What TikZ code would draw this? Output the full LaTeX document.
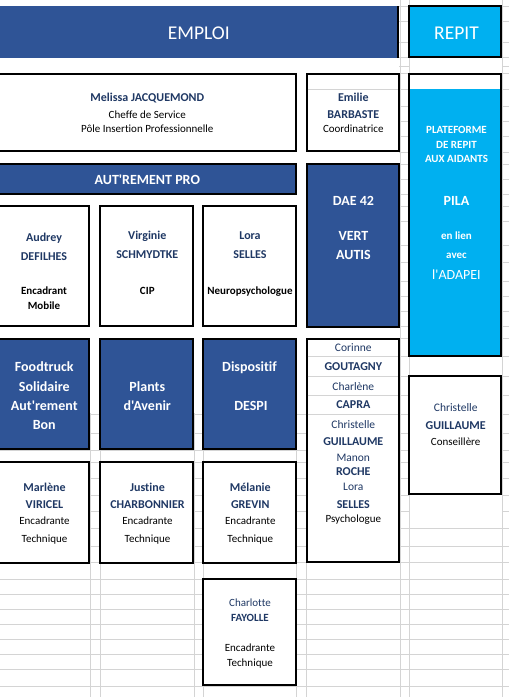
\documentclass[tikz,border=0pt]{standalone}
\usepackage{fontspec}
\setmainfont{Carlito}[Ligatures={TeXOff,NoCommon}]
\definecolor{dblue}{HTML}{2F5496}
\definecolor{cyanb}{HTML}{00B0F0}
\definecolor{namecol}{HTML}{1F3864}
\definecolor{gridc}{HTML}{D4D4D4}
\newcommand\cellbox[6]{\node[#6, anchor=north west, minimum width={(#4)*1pt-(#2)*1pt}, minimum height={(#5)*1pt-(#3)*1pt}] (#1) at (#2,#3) {};}
\newcommand\tline[5]{\node[#4] (#1) at (#2,#3) {#5};}
\begin{document}
\begin{tikzpicture}[x=1pt,y=-1pt,
  gridl/.style={draw=gridc, line width=1pt},
  frame/.style={draw=black, line width=2pt, inner sep=0pt, outer sep=0pt, fill=white},
  bluebox/.style={frame, fill=dblue},
  cyanbox/.style={frame, fill=cyanb},
  tb/.style={anchor=base, inner sep=0pt, outer sep=0pt},
  nm/.style={tb, font=\fontsize{12}{14}\selectfont\bfseries, text=namecol},
  nms/.style={tb, font=\fontsize{11}{13}\selectfont\bfseries, text=namecol},
  nmr/.style={tb, font=\fontsize{11.5}{14}\selectfont, text=namecol},
  nmrs/.style={tb, font=\fontsize{11}{13}\selectfont, text=namecol},
  sub/.style={tb, font=\fontsize{11}{13}\selectfont, text=black},
  subb/.style={tb, font=\fontsize{11}{13}\selectfont\bfseries, text=black},
  wb/.style={tb, font=\fontsize{14}{16}\selectfont\bfseries, text=white},
  wbs/.style={tb, font=\fontsize{11}{13}\selectfont\bfseries, text=white},
  wr/.style={tb, font=\fontsize{14}{16}\selectfont, text=white},
  hd/.style={tb, font=\fontsize{19.5}{22}\selectfont, text=white}]
\useasboundingbox (0,0) rectangle (509,697);
\clip (0,0) rectangle (509,697);
\fill[white] (0,0) rectangle (509,697);
% spreadsheet grid
\foreach \r in {6,21,42,57.7,66.7,73.7,89.3,106,121.7,136.7,152,164.3,179,194,206,221.7,245,262.7,281.7,296.7,311.7,326.7,338.3,356,376.7,395.7,414.3,433,450,462,478,495,511.7,528,546,562.7,579.3,594.3,609.3,624.3,639.3,654.3,669.3,686}
  {\draw[gridl] (399,\r) -- (409.3,\r); \draw[gridl] (502.7,\r) -- (509,\r);}
\foreach \c in {400,409.3,502.7} {\draw[gridl] (\c,0) -- (\c,697);}
\foreach \r in {414.3,433,450,462,478,495,511.7,528,546,562.7,579.3,594.3,609.3,624.3,639.3,654.3,669.3,686}
  {\draw[gridl] (0,\r) -- (400,\r);}
\foreach \c in {90.7,100.7,194,203,296.7,306} {\draw[gridl] (\c,413) -- (\c,697);}
\foreach \r in {528,546,562.7,579.3,594.3,609.3,624.3,639.3,654.3,669.3,686}
  {\draw[gridl] (409.3,\r) -- (502.7,\r);}
% header cells
\cellbox{emploi}{-3}{6}{398.3}{57.7}{fill=dblue, inner sep=0pt, outer sep=0pt}
\draw[line width=2pt] (emploi.north east) -- ([yshift=-0.6pt]emploi.south east);
\cellbox{repit}{409.3}{6}{501.3}{57.3}{cyanbox}
% second row
\cellbox{melissa}{-3}{74.3}{295.7}{151.3}{frame}
\cellbox{emilie}{306.7}{74.3}{399}{151.3}{frame}
\cellbox{plat}{409.3}{73.7}{501.3}{355.7}{frame}
\fill[cyanb] (409.3,89.3) rectangle (501.3,355.7);
\draw[line width=2pt] (plat.north west) rectangle (plat.south east);
% aut'rement pro
\cellbox{autpro}{-3}{164.3}{295.7}{193.7}{bluebox}
\cellbox{audrey}{-3}{206}{89.3}{326.3}{frame}
\cellbox{virginie}{100.3}{206}{192.7}{326.3}{frame}
\cellbox{lora}{203.3}{206}{295.7}{326.3}{frame}
\cellbox{dae}{306.7}{164.3}{399}{326.7}{bluebox}
\cellbox{food}{-3}{339.3}{89.3}{449.3}{bluebox}
\cellbox{plants}{100.3}{339.3}{192.7}{449.3}{bluebox}
\cellbox{despi}{203.3}{339.3}{295.7}{449.3}{bluebox}
\cellbox{corinne}{306.7}{339.3}{399}{562.3}{frame}
\cellbox{christelle}{409.3}{376.3}{501.3}{494.3}{frame}
\cellbox{marlene}{-3}{462}{89.3}{562.7}{frame}
\cellbox{justine}{100.3}{462}{192.7}{562.7}{frame}
\cellbox{melanie}{203.3}{462}{295.7}{562.7}{frame}
\cellbox{charlotte}{203.3}{579.3}{295.7}{685}{frame}
% inner grid lines
\draw[gridl] (307.7,89.3) -- (398,89.3);
\foreach \r in {356,376.7,395.7,414.3} {\draw[gridl] (307.7,\r) -- (398,\r);}
% texts
\tline{t-emp}{198.8}{39.3}{hd}{EMPLOI}
\tline{t-rep}{456.5}{39}{hd}{REPIT}
\tline{m1}{147.3}{101.7}{nm}{Melissa JACQUEMOND}
\tline{m2}{147.3}{118.3}{sub}{Cheffe de Service}
\tline{m3}{147.3}{132.7}{sub}{Pôle Insertion Professionnelle}
\tline{e1}{353.3}{101.7}{nm}{Emilie}
\tline{e2}{353.3}{118.3}{nm}{BARBASTE}
\tline{e3}{353.3}{132.7}{sub}{Coordinatrice}
\tline{p1}{456.5}{133.3}{wbs}{PLATEFORME}
\tline{p2}{456.5}{148.3}{wbs}{DE REPIT}
\tline{p3}{456.5}{162.3}{wbs}{AUX AIDANTS}
\tline{p4}{456.5}{205}{wb}{PILA}
\tline{p5}{456.5}{239.3}{wbs}{en lien}
\tline{p6}{456.5}{258.3}{wbs}{avec}
\tline{p7}{456.5}{279.3}{wr}{l'ADAPEI}
\tline{ap}{147.3}{184}{wb}{AUT'REMENT PRO}
\tline{a1}{44}{241.7}{nm}{Audrey}
\tline{a2}{44}{260}{nm}{DEFILHES}
\tline{a3}{44}{294}{subb}{Encadrant}
\tline{a4}{44}{309}{subb}{Mobile}
\tline{v1}{147.3}{239}{nm}{Virginie}
\tline{v2}{147.3}{258}{nm}{SCHMYDTKE}
\tline{v3}{147.3}{294}{subb}{CIP}
\tline{l1}{250}{239}{nm}{Lora}
\tline{l2}{250}{258}{nm}{SELLES}
\tline{l3}{250}{294}{subb}{Neuropsychologue}
\tline{d1}{353.5}{205}{wb}{DAE 42}
\tline{d2}{353.5}{240}{wb}{VERT}
\tline{d3}{353.5}{259}{wb}{AUTIS}
\tline{f1}{44.3}{371}{wb}{Foodtruck}
\tline{f2}{44.3}{391}{wb}{Solidaire}
\tline{f3}{44.3}{410}{wb}{Aut'rement}
\tline{f4}{44.3}{429}{wb}{Bon}
\tline{pl1}{147.3}{391}{wb}{Plants}
\tline{pl2}{147.3}{410}{wb}{d'Avenir}
\tline{ds1}{249.5}{371}{wb}{Dispositif}
\tline{ds2}{251}{410}{wb}{DESPI}
\tline{c1}{353.3}{351.7}{nmr}{Corinne}
\tline{c2}{353.3}{370.7}{nm}{GOUTAGNY}
\tline{c3}{353.3}{390}{nmr}{Charlène}
\tline{c4}{353.3}{408.7}{nm}{CAPRA}
\tline{c5}{353.3}{428}{nmr}{Christelle}
\tline{c6}{353.3}{445.7}{nm}{GUILLAUME}
\tline{c7}{353.3}{461}{nmr}{Manon}
\tline{c8}{353.3}{475}{nm}{ROCHE}
\tline{c9}{353.3}{490.7}{nmr}{Lora}
\tline{c10}{353.3}{508}{nm}{SELLES}
\tline{c11}{353.3}{522}{sub}{Psychologue}
\tline{ch1}{455.7}{411}{nmr}{Christelle}
\tline{ch2}{455.7}{429}{nm}{GUILLAUME}
\tline{ch3}{455.7}{445.7}{sub}{Conseillère}
\tline{mr1}{44.5}{491}{nm}{Marlène}
\tline{mr2}{44.5}{508.3}{nm}{VIRICEL}
\tline{mr3}{44.5}{524.3}{sub}{Encadrante}
\tline{mr4}{44.5}{542.3}{sub}{Technique}
\tline{j1}{147.5}{491}{nm}{Justine}
\tline{j2}{147.5}{508.3}{nm}{CHARBONNIER}
\tline{j3}{147.5}{524.3}{sub}{Encadrante}
\tline{j4}{147.5}{542.3}{sub}{Technique}
\tline{me1}{250.3}{491}{nm}{Mélanie}
\tline{me2}{250.3}{508.3}{nm}{GREVIN}
\tline{me3}{250.3}{524.3}{sub}{Encadrante}
\tline{me4}{250.3}{542.3}{sub}{Technique}
\tline{co1}{250}{606.7}{nmrs}{Charlotte}
\tline{co2}{250}{621.3}{nms}{FAYOLLE}
\tline{co3}{250}{651.3}{sub}{Encadrante}
\tline{co4}{250}{666}{sub}{Technique}
\end{tikzpicture}
\end{document}
